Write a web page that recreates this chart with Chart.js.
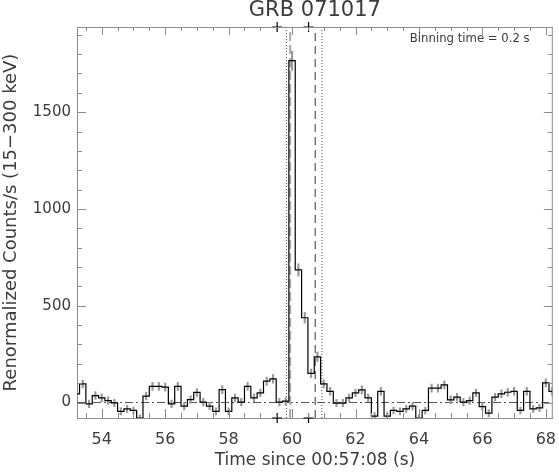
<!DOCTYPE html>
<html><head><meta charset="utf-8">
<script src="https://cdn.jsdelivr.net/npm/chart.js@4/dist/chart.umd.min.js"></script>
<style>html,body{margin:0;padding:0;background:#fff;overflow:hidden}</style>
</head><body>
<canvas id="c" width="559" height="473" style="display:block;width:559px;height:473px"></canvas>
<script>
// ---- data ----
const binTimes = [53.2,53.4,53.6,53.8,54.0,54.2,54.4,54.6,54.8,55.0,55.2,55.4,55.6,55.8,56.0,56.2,56.4,56.6,56.8,57.0,
  57.2,57.4,57.6,57.8,58.0,58.2,58.4,58.6,58.8,59.0,59.2,59.4,59.6,59.8,60.0,60.2,60.4,60.6,60.8,61.0,
  61.2,61.4,61.6,61.8,62.0,62.2,62.4,62.6,62.8,63.0,63.2,63.4,63.6,63.8,64.0,64.2,64.4,64.6,64.8,65.0,
  65.2,65.4,65.6,65.8,66.0,66.2,66.4,66.6,66.8,67.0,67.2,67.4,67.6,67.8,68.0,68.2];
const counts = [45,96,-7,36,24,10,-2,-46,-33,-41,-80,33,83,83,79,-7,83,-19,15,52,
  2,-19,-46,67,-46,24,2,83,24,50,110,122,2,7,1766,685,438,151,236,96,
  58,-3,-3,24,50,65,24,-70,58,-70,-41,-46,-33,-19,-80,-41,74,74,91,14,
  28,2,10,50,-21,-55,28,45,53,58,-41,58,-33,-28,101,58];
const errors = [20,20,19,20,20,20,19,18,18,18,17,20,21,21,21,19,21,19,20,20,
  19,19,18,21,18,20,19,21,20,20,22,22,19,19,50,32,28,22,24,21,
  20,19,19,20,20,21,20,18,20,18,18,18,18,19,17,18,21,21,21,20,
  20,19,20,20,19,18,20,20,20,20,18,20,18,18,21,20];
const xTickLabels = [54,56,58,60,62,64,66,68];
const yTickLabels = [0,500,1000,1500];
const xRange = [53.22, 68.22];
const yRange = [-80, 1940];
const dottedLines = [59.82, 60.94];
const dashedLines = [60.73];
const greyDashedLines = [59.94];
const markerTimes = [59.53, 60.52];
const titleText = 'GRB 071017';
const noteText = 'Binning time = 0.2 s';

const FONT = 'DejaVu Sans';
const TXT = '#3c3c3c';
const AXIS = '#8c8c8c';

function vline(t, color, dash, width) {
  return {type:'line', data:[{x:t,y:yRange[0]},{x:t,y:yRange[1]}], borderColor:color, borderDash:dash,
    borderWidth:width, pointRadius:0, fill:false, order:3};
}
const datasets = [
  {type:'line', data: binTimes.map((t,i)=>({x:t,y:counts[i]})), stepped:'middle', borderColor:'#000',
   borderWidth:1.2, pointRadius:0, fill:false, order:0},
  {type:'bar', data: binTimes.map((t,i)=>({x:t,y:[counts[i]-errors[i], counts[i]+errors[i]]})),
   backgroundColor:'#9a9a9a', barThickness:1.5, order:1},
  {type:'line', data:[{x:xRange[0],y:0},{x:xRange[1],y:0}], borderColor:'#555', borderDash:[8,3,2,3],
   borderWidth:1, pointRadius:0, fill:false, order:4},
  ...dottedLines.map(t=>vline(t,'#444',[1,2],1)),
  ...dashedLines.map(t=>vline(t,'#555',[8,5],1.2)),
  ...greyDashedLines.map(t=>vline(t,'#aaa',[9,4],2)),
  {type:'scatter', data: markerTimes.flatMap(t=>[{x:t,y:yRange[1]},{x:t,y:yRange[0]}]), pointStyle:'cross',
   pointRadius:5, borderColor:'#000', borderWidth:1.2, clip:false, order:2}
];

const frame = {
  id:'frame',
  afterDraw(chart){
    const {ctx, chartArea:a, scales:{x,y}} = chart;
    ctx.save();
    ctx.strokeStyle = AXIS; ctx.lineWidth = 1;
    ctx.beginPath();
    ctx.moveTo(a.left, a.top+0.5); ctx.lineTo(a.right, a.top+0.5);
    ctx.moveTo(a.right-0.5, a.top); ctx.lineTo(a.right-0.5, a.bottom);
    for (let k=Math.ceil(xRange[0]*2); k<=Math.floor(xRange[1]*2); k++) {
      const v = k/2, px = Math.round(x.getPixelForValue(v))+0.5;
      const len = (k%4===0) ? 9 : 5;
      ctx.moveTo(px, a.bottom); ctx.lineTo(px, a.bottom-len);
      ctx.moveTo(px, a.top); ctx.lineTo(px, a.top+(k%4===0 ? 8 : 4));
    }
    for (let k=Math.ceil(yRange[0]/100); k<=Math.floor(yRange[1]/100); k++) {
      const v = k*100, py = Math.round(y.getPixelForValue(v))+0.5;
      const len = (k%5===0) ? 9 : 5;
      ctx.moveTo(a.left, py); ctx.lineTo(a.left+len, py);
      ctx.moveTo(a.right, py); ctx.lineTo(a.right-len, py);
    }
    ctx.stroke();
    ctx.fillStyle = TXT; ctx.font = '11.7px "'+FONT+'"'; ctx.textAlign='left'; ctx.textBaseline='alphabetic';
    ctx.fillText(noteText, a.right-143, a.top+15);
    ctx.restore();
  }
};

new Chart(document.getElementById('c'), {
  type:'line',
  data:{datasets},
  options:{
    responsive:false, animation:false, devicePixelRatio:1,
    layout:{padding:{left:0,right:3,top:0,bottom:0}},
    plugins:{
      legend:{display:false}, tooltip:{enabled:false},
      title:{display:true, text:titleText, fullSize:false, color:TXT,
        font:{family:FONT, size:21, weight:'normal', lineHeight:1}, padding:{top:0,bottom:6}}
    },
    scales:{
      x:{type:'linear', position:'bottom', min:xRange[0], max:xRange[1], offset:false,
        afterFit(s){ s.height = 55; s.paddingLeft = 0; s.paddingRight = 0; },
        afterBuildTicks(s){ s.ticks = xTickLabels.map(v=>({value:v})); },
        ticks:{font:{family:FONT,size:16}, color:TXT, padding:12, maxRotation:0, autoSkip:false,
          callback:(v)=>String(v)},
        grid:{display:false, drawTicks:false}, border:{display:true, color:AXIS, width:1},
        title:{display:true, text:'Time since 00:57:08 (s)', color:TXT, font:{family:FONT,size:17}, padding:{top:0,bottom:2}}
      },
      y:{type:'linear', min:yRange[0], max:yRange[1],
        afterFit(s){ s.width = 77; s.paddingTop = 0; s.paddingBottom = 0; },
        afterBuildTicks(s){ s.ticks = yTickLabels.map(v=>({value:v})); },
        ticks:{font:{family:FONT,size:15}, color:TXT, padding:6, callback:(v)=>String(v)},
        grid:{display:false, drawTicks:false}, border:{display:true, color:AXIS, width:1},
        title:{display:true, text:'Renormalized Counts/s (15\u2212300 keV)', color:TXT, font:{family:FONT,size:18}, padding:{top:1,bottom:0}}
      }
    }
  },
  plugins:[frame]
});
</script>
</body></html>
